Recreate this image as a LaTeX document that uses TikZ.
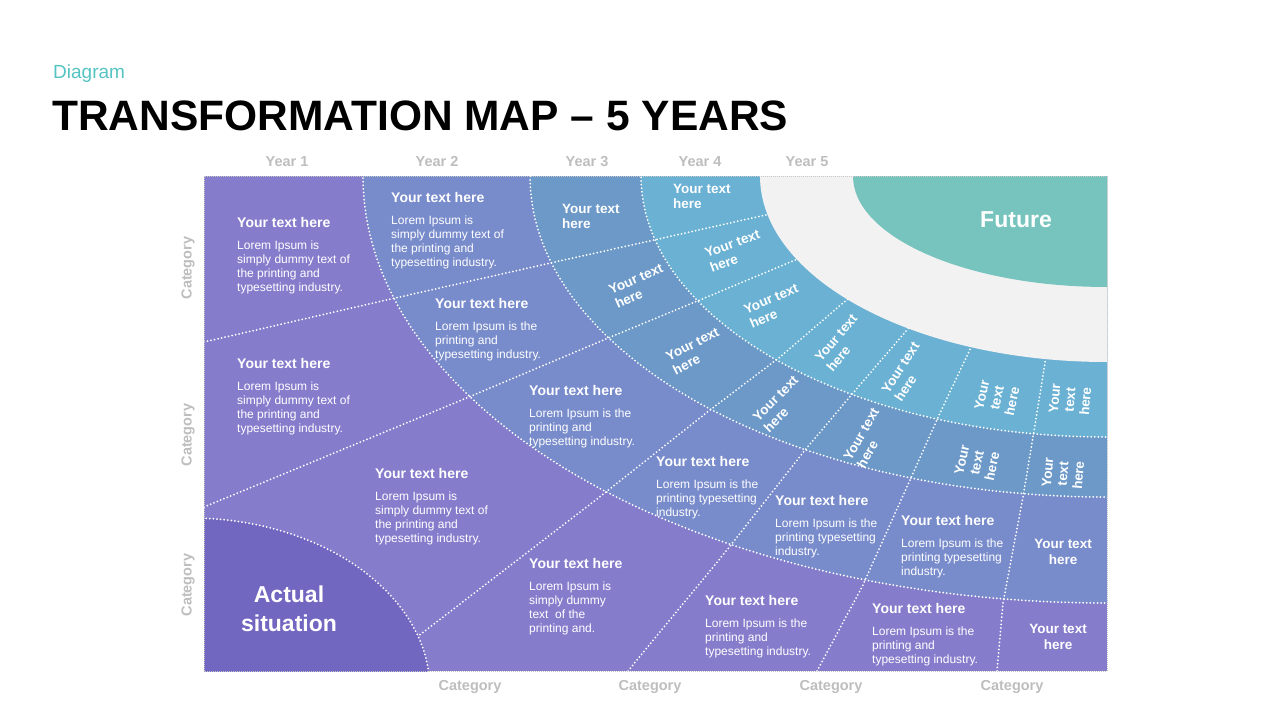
\documentclass[tikz,border=0pt]{standalone}
\usepackage{fontspec}
\setmainfont{Liberation Sans}
\usetikzlibrary{positioning}

\definecolor{bandout}{RGB}{133,125,204}
\definecolor{actual}{RGB}{113,102,192}
\definecolor{bandtwo}{RGB}{120,139,203}
\definecolor{bandthree}{RGB}{108,153,200}
\definecolor{bandfour}{RGB}{106,177,211}
\definecolor{whiteband}{RGB}{242,242,242}
\definecolor{future}{RGB}{118,196,189}
\definecolor{labelgray}{RGB}{190,190,190}
\definecolor{diagteal}{RGB}{84,196,194}

\newcommand{\cellhead}{{\bfseries\fontsize{14}{16}\selectfont Your text here}\\[8pt]}

\begin{document}
\begin{tikzpicture}[
    x=1pt, y=-1pt,
    sep/.style={white, line width=2pt, line cap=round, dash pattern=on 0pt off 3.6pt},
    frame/.style={draw=white!78!black, line width=0.8pt, dash pattern=on 1pt off 1pt},
    cell/.style={text=white, align=left, anchor=north west, inner sep=0pt,
        font=\fontsize{12}{14}\selectfont},
    tag/.style={text=white, align=center, inner sep=0pt,
        font=\bfseries\fontsize{13.5}{15.5}\selectfont},
    big/.style={text=white, align=center, inner sep=0pt,
        font=\bfseries\fontsize{23}{29}\selectfont},
    axis/.style={text=labelgray, inner sep=0pt,
        font=\bfseries\fontsize{14.5}{16}\selectfont}
]
\useasboundingbox (0,0) rectangle (1280,720);
\fill[white] (0,0) rectangle (1280,720);

% heading
\node[anchor=base west, inner sep=0pt, text=diagteal,
    font=\fontsize{19}{22}\selectfont] (kicker) at (53,78) {Diagram};
\node[anchor=base west, inner sep=0pt,
    font=\bfseries\fontsize{42.5}{48}\selectfont] (title) at (52,130) {TRANSFORMATION MAP – 5 YEARS};

% bands
\begin{scope}
\clip (204,176) rectangle (1107,671);
\fill[bandout] (204,176) rectangle (1107,671);
\fill[bandtwo] (1107,176) ellipse [x radius=744pt, y radius=427pt];
\fill[bandthree] (1107,176) ellipse [x radius=577pt, y radius=321pt];
\fill[bandfour] (1107,176) ellipse [x radius=466pt, y radius=261pt];

% radial separators
\draw[sep] (204,342) -- (382,301) -- (555,262) -- (663,238) -- (770,214) -- (800,207);
\draw[sep] (204,507) -- (457,402) -- (613,336) -- (707,297) -- (800,258) -- (830,246);
\draw[sep] (400,650) -- (597,499) -- (710,410) -- (780,357) -- (843,303) -- (870,282);
\draw[sep] (628,671) -- (727,550) -- (805,450) -- (853,393) -- (907,330) -- (925,308);
\draw[sep] (817,671) -- (862,587) -- (910,480) -- (940,413) -- (973,343) -- (985,318);
\draw[sep] (997,671) -- (1003,603) -- (1023,497) -- (1033,437) -- (1045,363) -- (1050,335);

\fill[actual] (190,690) ellipse [x radius=240pt, y radius=172pt];
\draw[sep] (190,690) ellipse [x radius=240pt, y radius=172pt];

\draw[sep] (1107,176) ellipse [x radius=744pt, y radius=427pt];
\draw[sep] (1107,176) ellipse [x radius=577pt, y radius=321pt];
\draw[sep] (1107,176) ellipse [x radius=466pt, y radius=261pt];

\fill[whiteband] (1107,176) ellipse [x radius=347pt, y radius=186pt];
\fill[future] (1107,176) ellipse [x radius=254pt, y radius=111pt];
\end{scope}
\draw[frame] (204,176) rectangle (1107,671);

% year 1 band
\node[cell] (o1) at (237,217) {\cellhead Lorem Ipsum is\\simply dummy text of\\the printing and\\typesetting industry.};
\node[cell] (o2) at (237,358) {\cellhead Lorem Ipsum is\\simply dummy text of\\the printing and\\typesetting industry.};
\node[cell] (o3) at (375,468) {\cellhead Lorem Ipsum is\\simply dummy text of\\the printing and\\typesetting industry.};
\node[cell] (o4) at (529,558) {\cellhead Lorem Ipsum is\\simply dummy\\text\ \ of the\\printing and.};
\node[cell] (o5) at (705,595) {\cellhead Lorem Ipsum is the\\printing and\\typesetting industry.};
\node[cell] (o6) at (872,603) {\cellhead Lorem Ipsum is the\\printing and\\typesetting industry.};
\node[tag] (o7) at (1058,637) {Your text\\here};

% year 2 band
\node[cell] (m1) at (391,192) {\cellhead Lorem Ipsum is\\simply dummy text of\\the printing and\\typesetting industry.};
\node[cell] (m2) at (435,298) {\cellhead Lorem Ipsum is the\\printing and\\typesetting industry.};
\node[cell] (m3) at (529,385) {\cellhead Lorem Ipsum is the\\printing and\\typesetting industry.};
\node[cell] (m4) at (656,456) {\cellhead Lorem Ipsum is the\\printing typesetting\\industry.};
\node[cell] (m5) at (775,495) {\cellhead Lorem Ipsum is the\\printing typesetting\\industry.};
\node[cell] (m6) at (901,515) {\cellhead Lorem Ipsum is the\\printing typesetting\\industry.};
\node[tag] (m7) at (1063,552) {Your text\\here};

% year 3 band
\node[tag, align=left, anchor=north west] (c1) at (562,204) {Your text\\here};
\node[tag, align=left, rotate=24] (c2) at (639,286) {Your text\\here};
\node[tag, align=left, rotate=27] (c3) at (696,351) {Your text\\here};
\node[tag, align=left, rotate=45] (c4) at (781,404) {Your text\\here};
\node[tag, align=left, rotate=60] (c5) at (868,438) {Your text\\here};
\node[tag, rotate=78] (c6) at (977,463) {Your\\text\\here};
\node[tag, rotate=85] (c7) at (1063,474) {Your\\text\\here};

% year 4 band
\node[tag, align=left, anchor=north west] (b1) at (673,184) {Your text\\here};
\node[tag, align=left, rotate=20] (b2) at (735,251) {Your text\\here};
\node[tag, align=left, rotate=23] (b3) at (774,306) {Your text\\here};
\node[tag, align=left, rotate=50] (b4) at (842,343) {Your text\\here};
\node[tag, align=left, rotate=57] (b5) at (907,372) {Your text\\here};
\node[tag, rotate=78] (b6) at (997,398) {Your\\text\\here};
\node[tag, rotate=85] (b7) at (1070,400) {Your\\text\\here};

\node[big] (now) at (289,609) {Actual\\situation};
\node[big] (goal) at (1016,220) {Future};

% axes
\node[axis] (yr1) at (287,162) {Year 1};
\node[axis] (yr2) at (437,162) {Year 2};
\node[axis] (yr3) at (587,162) {Year 3};
\node[axis] (yr4) at (700,162) {Year 4};
\node[axis] (yr5) at (807,162) {Year 5};
\node[axis, rotate=90] (cl1) at (188,268) {Category};
\node[axis, rotate=90] (cl2) at (188,435) {Category};
\node[axis, rotate=90] (cl3) at (188,585) {Category};
\node[axis] (cb1) at (470,687) {Category};
\node[axis] (cb2) at (650,687) {Category};
\node[axis] (cb3) at (831,687) {Category};
\node[axis] (cb4) at (1012,687) {Category};
\end{tikzpicture}
\end{document}
